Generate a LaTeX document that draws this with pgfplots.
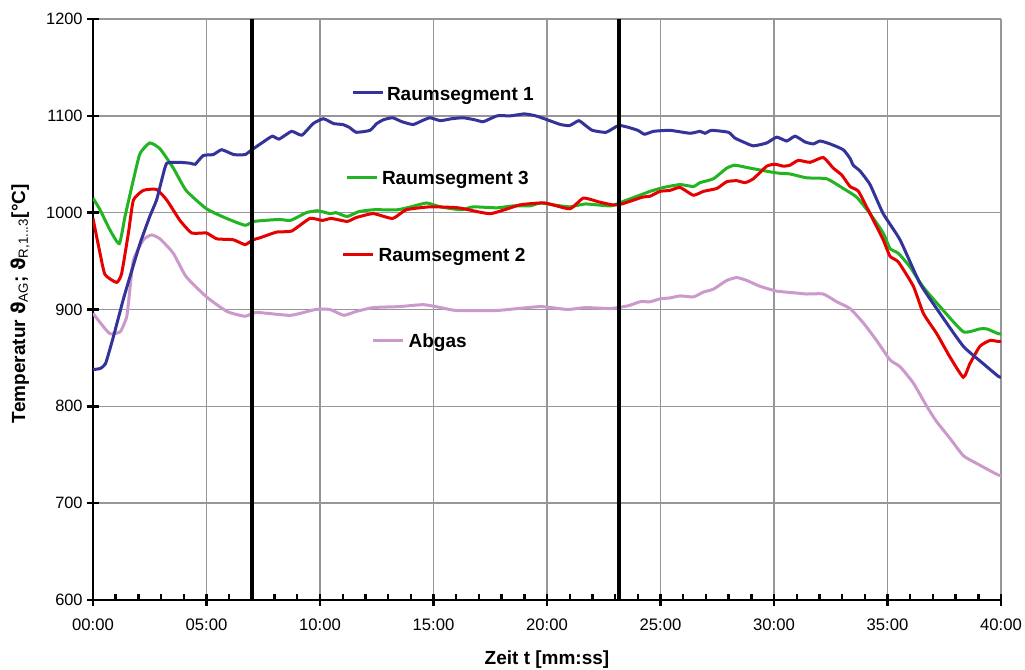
\documentclass[border=0pt]{standalone}
\usepackage{fontspec}
\setmainfont{Liberation Sans}
\newfontfamily\dejavu{DejaVu Sans}
\usepackage{pgfplots}
\pgfplotsset{compat=1.18}
\definecolor{cblue}{RGB}{51,51,153}
\definecolor{cred}{RGB}{230,0,0}
\definecolor{cgreen}{RGB}{34,180,34}
\definecolor{cpink}{RGB}{204,153,204}
\definecolor{gridc}{RGB}{150,150,150}
\begin{document}
\begin{tikzpicture}
\path[use as bounding box] (-69.75pt,-52.5pt) rectangle (699pt,450pt);
\begin{axis}[at={(0,0)}, anchor=south west, scale only axis,
  width=681pt, height=435.75pt,
  xmin=0, xmax=40, ymin=600, ymax=1200,
  axis x line*=bottom, axis y line*=left,
  axis line style={line width=2.2pt, black},
  xtick={0,5,...,40},
  xticklabels={00:00,05:00,10:00,15:00,20:00,25:00,30:00,35:00,40:00},
  minor x tick num=4,
  ytick={600,700,...,1200},
  grid=major, major grid style={gridc, line width=1.1pt},
  tick align=center, major tick length=8.5pt, minor tick length=4.5pt,
  tick style={black, line width=1.8pt},
  minor tick style={yshift=2.25pt},
  /pgf/number format/assume math mode=true,
  /pgf/number format/1000 sep={},
  xticklabel style={font=\fontsize{12.5}{14}\selectfont, yshift=-6.5pt},
  yticklabel style={font=\fontsize{12.3}{14}\selectfont},
  xlabel={Zeit t [mm:ss]},
  xlabel style={at={(axis description cs:0.5,-0.103)}, anchor=center, font=\fontsize{14.25}{16}\selectfont\bfseries},
  ylabel={Temperatur {\dejavu ϑ}\textsubscript{\mdseries AG}; {\dejavu ϑ}\textsubscript{\mdseries R,1...3}[°C]},
  ylabel style={at={(axis description cs:-0.0804,0.51)}, anchor=center, font=\fontsize{14.25}{16}\selectfont\bfseries},
]
% Abgas
\addplot[cpink, line width=2.25pt, smooth, tension=0.3] coordinates {
(0,896) (0.4,884) (0.75,875) (1.2,877) (1.48,892) (1.6,915) (1.78,951) (2.22,972) (2.58,977) (2.95,973) (3.54,958) (4.1,934) (5.0,913) (5.9,898) (6.7,893) (7.2,897) (8.7,894) (9.8,900) (10.44,900) (11.05,894) (11.6,898) (12.35,902) (13.5,903) (14.55,905) (15.3,902) (16,899) (17.8,899) (19.7,903) (20.9,900) (21.7,902) (22.8,901) (23.6,904) (24.1,908) (24.54,908) (24.98,911) (25.42,912) (25.86,914) (26.45,913) (26.89,918) (27.33,921) (27.92,930) (28.36,933) (28.8,930) (29.38,924) (30.12,919) (31.0,917) (31.43,916) (32.17,916) (32.76,908) (33.35,901) (33.94,886) (34.52,868) (35.11,848) (35.55,841) (36.14,824) (36.73,800) (37.17,784) (37.75,767) (38.34,749) (38.93,741) (39.88,729) (40,729)};
% Raumsegment 3
\addplot[cgreen, line width=2.25pt, smooth, tension=0.3] coordinates {
(0,1015) (0.31,1003) (0.75,982) (1.16,968) (1.41,996) (1.78,1034) (2.07,1061) (2.5,1072) (2.95,1066) (3.54,1046) (4.1,1023) (5.0,1004) (5.89,994) (6.7,987) (7.1,991) (8.2,993) (8.7,992) (9.4,1000) (9.9,1002) (10.44,999) (10.7,1000) (11.2,996) (11.7,1001) (12.35,1003) (13.4,1003) (14.0,1006) (14.7,1010) (15.3,1006) (16.2,1003) (16.75,1006) (17.8,1005) (18.5,1007) (19.25,1007) (19.7,1010) (20.3,1008) (21.0,1006) (21.7,1009) (22.8,1007) (23.4,1012) (24.2,1019) (24.54,1022) (25.13,1026) (25.86,1029) (26.45,1027) (26.74,1031) (27.33,1035) (27.92,1046) (28.28,1049) (28.94,1046) (30.12,1041) (30.7,1040) (31.43,1036) (32.32,1035) (33.05,1025) (33.64,1016) (34.23,999) (34.81,979) (35.11,963) (35.48,958) (35.99,944) (36.58,923) (37.31,903) (38.34,877) (39.07,880) (39.37,880) (39.88,875) (40,875)};
% Raumsegment 2
\addplot[cred, line width=2.25pt, smooth, tension=0.3] coordinates {
(0,994) (0.31,958) (0.53,936) (1.04,928) (1.26,937) (1.56,979) (1.78,1013) (2.22,1023) (2.8,1024) (3.25,1013) (3.83,992) (4.35,979) (5.0,979) (5.45,973) (6.18,972) (6.7,967) (7.05,972) (7.35,974) (8.1,980) (8.75,981) (9.55,994) (10.1,992) (10.5,994) (11.2,991) (11.6,995) (12.35,999) (13.2,994) (13.8,1003) (14.85,1006) (16.1,1005) (17.5,999) (18.8,1008) (19.9,1010) (21.0,1004) (21.6,1015) (22.3,1011) (22.9,1008) (23.3,1009) (24.2,1016) (24.54,1017) (24.98,1022) (25.42,1023) (25.86,1026) (26.45,1018) (26.89,1022) (27.48,1025) (27.92,1032) (28.36,1033) (28.73,1031) (29.09,1035) (29.68,1048) (30.05,1050) (30.41,1048) (30.7,1049) (31.07,1054) (31.59,1052) (32.17,1057) (32.61,1046) (32.98,1039) (33.35,1027) (33.72,1022) (34.23,999) (34.81,972) (35.11,955) (35.48,949) (36.14,924) (36.58,896) (37.17,875) (37.75,851) (38.34,830) (38.63,844) (39.07,862) (39.51,868) (39.88,867) (40,867)};
% Raumsegment 1
\addplot[cblue, line width=2.25pt, smooth, tension=0.3] coordinates {
(0,838) (0.3,839) (0.55,844) (0.9,872) (1.33,910) (1.63,934) (2.07,968) (2.5,996) (2.8,1013) (3.03,1034) (3.25,1051) (3.8,1052) (4.3,1051) (4.5,1050) (4.86,1059) (5.3,1060) (5.67,1065) (6.2,1060) (6.7,1060) (7.0,1065) (7.5,1073) (7.9,1079) (8.2,1076) (8.75,1084) (9.2,1080) (9.7,1092) (10.15,1097) (10.6,1092) (11.0,1091) (11.3,1088) (11.6,1083) (12.2,1085) (12.5,1092) (12.8,1096) (13.2,1098) (13.6,1094) (14.1,1091) (14.5,1095) (14.85,1098) (15.3,1095) (15.8,1097) (16.3,1098) (16.8,1096) (17.2,1094) (17.8,1100) (18.4,1100) (19.0,1102) (19.5,1100) (20.0,1096) (20.6,1091) (21.0,1090) (21.4,1095) (21.7,1090) (22.0,1085) (22.6,1083) (23.15,1090) (23.6,1088) (24.0,1085) (24.3,1081) (24.7,1084) (25.42,1085) (26.3,1082) (26.74,1084) (26.96,1082) (27.25,1085) (27.99,1083) (28.28,1077) (28.65,1073) (29.09,1069) (29.68,1072) (30.12,1078) (30.56,1074) (30.93,1079) (31.37,1073) (31.73,1071) (32.03,1074) (32.47,1071) (33.05,1065) (33.35,1056) (33.49,1049) (33.79,1043) (34.23,1029) (34.81,999) (35.55,972) (36.43,927) (37.31,896) (38.34,862) (39.22,844) (39.88,831) (40,830)};
% vertical markers
\addplot[black, line width=3pt] coordinates {(7,600) (7,1200)};
\addplot[black, line width=3pt] coordinates {(23.17,600) (23.17,1200)};
% labels
\draw[cblue, line width=2.25pt] (axis cs:11.44,1123.9) -- (axis cs:12.76,1123.9);
\node[anchor=base west, inner sep=0pt, font=\fontsize{14.25}{16}\selectfont\bfseries] at (axis cs:12.94,1116.3) {Raumsegment 1};
\draw[cgreen, line width=2.25pt] (axis cs:11.2,1036.5) -- (axis cs:12.5,1036.5);
\node[anchor=base west, inner sep=0pt, font=\fontsize{14.25}{16}\selectfont\bfseries] at (axis cs:12.72,1029.6) {Raumsegment 3};
\draw[cred, line width=2.25pt] (axis cs:11.03,956.3) -- (axis cs:12.32,956.3);
\node[anchor=base west, inner sep=0pt, font=\fontsize{14.25}{16}\selectfont\bfseries] at (axis cs:12.57,949.4) {Raumsegment 2};
\draw[cpink, line width=2.25pt] (axis cs:12.35,867.5) -- (axis cs:13.64,867.5);
\node[anchor=base west, inner sep=0pt, font=\fontsize{14.25}{16}\selectfont\bfseries] at (axis cs:13.89,861) {Abgas};
\end{axis}
\end{tikzpicture}
\end{document}
